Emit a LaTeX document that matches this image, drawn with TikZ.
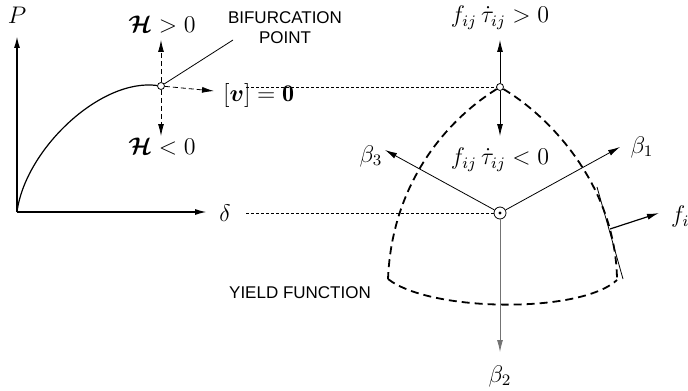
\documentclass[tikz,border=0pt]{standalone}
\usepackage{amsmath, amssymb}
\usepackage{bm}
\usepackage{fontspec}
\usetikzlibrary{arrows.meta}
\newfontfamily\rotulofont{Liberation Sans}
\newcommand{\corA}{black}
\newcommand{\corB}{black!55}

\begin{document}
\begin{tikzpicture}[x=0.5pt,y=-0.5pt,
    seta/.style={-{Latex[length=6pt,width=3pt]}},
    tracejado/.style={dashed, dash pattern=on 2.5pt off 1.5pt},
    guia/.style={thin, dash pattern=on 1.5pt off 1pt},
    superficie/.style={line width=0.9pt, dash pattern=on 4pt off 2.5pt},
    ponto/.style={circle, draw, fill=white, inner sep=0pt, minimum size=3.5pt},
    rotulo/.style={font=\rotulofont\fontsize{8.5}{10}\selectfont, align=center},
    mat/.style={font=\large}]
    \useasboundingbox (0,0) rectangle (688,390);

      % item 0 eixos
    \coordinate (origem) at (17,212);
    \coordinate (eixoP) at (17,36);
    \coordinate (eixoD) at (207,212);
    \draw[\corA, line width=0.8pt, seta] (origem) -- (eixoP);
    \draw[\corA, line width=0.8pt, seta] (origem) -- (eixoD);
    \node[mat] (P) at (17,15) {$P$};
    \node[mat] (delta) at (225,213) {$\delta$};

      % item 1 curva carga-deslocamento
    \node[ponto] (bif) at (161,86) {};
    \draw[\corA, line width=0.6pt] (origem) .. controls (25,150) and (100,78) .. (bif);

      % item 2 setas da bifurcacao
    \coordinate (bifC) at (161,40);
    \coordinate (bifB) at (161,136);
    \coordinate (bifD) at (214,91);
    \draw[tracejado, seta] (bif) -- (bifC);
    \draw[tracejado, seta] (bif) -- (bifB);
    \draw[tracejado, seta] (bif) -- (bifD);
    \node[mat] (Hpos) at (162,25) {$\bm{\mathcal{H}} > 0$};
    \node[mat] (Hneg) at (162,147) {$\bm{\mathcal{H}} < 0$};
    \node[mat, anchor=west] (salto) at (216,95) {$[\bm{v}] = \mathbf{0}$};

      % item 3 rotulo do ponto
    \coordinate (guiaBif) at (233,40);
    \draw[thin] (bif) -- (guiaBif);
    \node[rotulo] (bifRot) at (285,28) {BIFURCATION\\POINT};

      % item 4 linhas de chamada
    \node[ponto] (topo) at (500,87) {};
    \node[circle, draw, fill=white, inner sep=0pt, minimum size=6pt] (centro) at (500,213) {};
    \fill (centro) circle (0.8pt);
    \coordinate (guiaA) at (246,87);
    \coordinate (guiaB) at (246,213);
    \draw[guia] (guiaA) -- (topo);
    \draw[guia] (guiaB) -- (centro);

      % item 5 superficie de escoamento
    \coordinate (cantoE) at (388,279);
    \coordinate (cantoD) at (617,280);
    \draw[superficie] (topo) .. controls (450,118) and (392,180) .. (cantoE);
    \draw[superficie] (topo) .. controls (555,120) and (616,190) .. (cantoD);
    \draw[superficie] (cantoE) .. controls (430,312) and (580,314) .. (cantoD);
    \node[rotulo] (yield) at (300,293) {YIELD FUNCTION};

      % item 6 setas de carregamento
    \coordinate (topoC) at (500,40);
    \coordinate (topoB) at (500,136);
    \draw[seta] (topo) -- (topoC);
    \draw[seta] (topo) -- (topoB);
    \node[mat] (carga) at (500,18) {$f_{ij}\,\dot{\tau}_{ij} > 0$};
    \node[mat] (descarga) at (500,160) {$f_{ij}\,\dot{\tau}_{ij} < 0$};

      % item 7 vetores beta
    \coordinate (b1) at (620,147);
    \coordinate (b2) at (500,352);
    \coordinate (b3) at (385,150);
    \draw[seta] (centro) -- (b1);
    \draw[seta, \corB] (centro) -- (b2);
    \draw[seta] (centro) -- (b3);
    \node[mat] (beta1) at (642,147) {$\beta_1$};
    \node[mat] (beta2) at (500,376) {$\beta_2$};
    \node[mat] (beta3) at (371,156) {$\beta_3$};

      % item 8 tangente e normal
    \coordinate (tanA) at (597,187);
    \coordinate (tanB) at (623,279);
    \coordinate (normA) at (610,229);
    \coordinate (normB) at (659,213);
    \draw[thin] (tanA) -- (tanB);
    \draw[line width=0.6pt, seta] (normA) -- (normB);
    \node[mat, anchor=west] (fij) at (664,218) {$f_{ij}$};
\end{tikzpicture}
\end{document}
